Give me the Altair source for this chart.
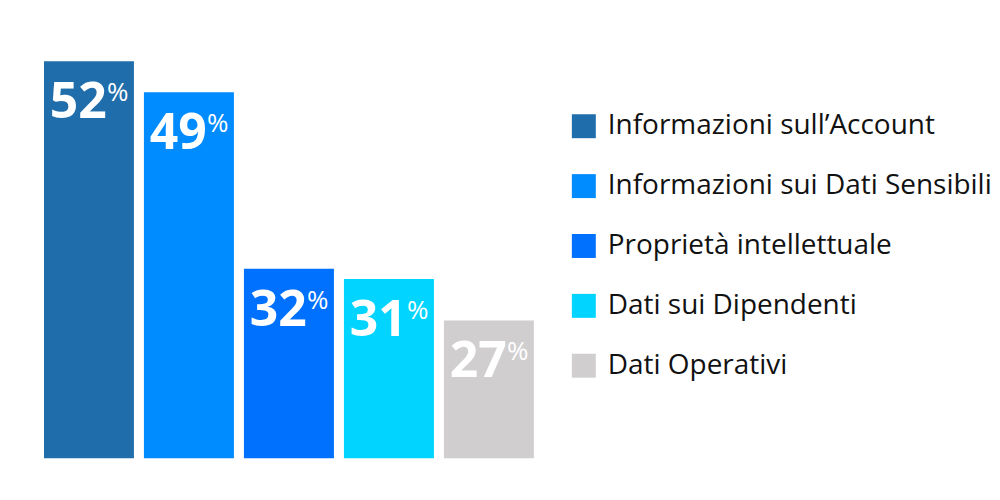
import altair as alt
import pandas as pd

categories = [
    "Informazioni sull\u2019Account",
    "Informazioni sui Dati Sensibili",
    "Propriet\u00e0 intellettuale",
    "Dati sui Dipendenti",
    "Dati Operativi",
]
values = [52, 49, 32, 31, 27]
colors = ["#1f6dab", "#008cff", "#0070ff", "#00d4ff", "#d0cece"]

df = pd.DataFrame({"cat": categories, "val": values})

x = alt.X("cat:N", sort=categories, axis=None,
          scale=alt.Scale(paddingInner=0.1, paddingOuter=0))
y = alt.Y("val:Q", axis=None,
          scale=alt.Scale(domain=[13.7, 54.0], zero=False, clamp=True))
color = alt.Color(
    "cat:N",
    sort=categories,
    scale=alt.Scale(domain=categories, range=colors),
    legend=alt.Legend(
        title=None,
        orient="none",
        legendX=527,
        legendY=72,
        symbolType="square",
        symbolSize=576,
        symbolStrokeWidth=0,
        labelFontSize=28,
        labelFont="Open Sans",
        labelColor="#111111",
        labelLimit=600,
        labelOffset=10,
        rowPadding=32,
        padding=0,
    ),
)

bars = alt.Chart(df).mark_bar(opacity=1, clip=True).encode(x=x, y=y, color=color)

nums = alt.Chart(df).mark_text(
    align="right", baseline="alphabetic", dx=18, dy=57,
    font="Open Sans", fontSize=50, fontWeight="bold", color="white",
).encode(x=x, y=y, text=alt.Text("val:Q"))

pct = alt.Chart(df).mark_text(
    align="left", baseline="alphabetic", dx=18, dy=40,
    font="Open Sans", fontSize=26, color="white",
).encode(x=x, y=y, text=alt.value("%"))

chart = (bars + nums + pct).properties(
    width=491, height=419,
    padding={"left": 36, "top": 32, "right": 0, "bottom": 0},
    background="white",
).configure_view(stroke=None, strokeWidth=0)

chart.save("out.html", embed_options={"renderer": "svg", "actions": False})
